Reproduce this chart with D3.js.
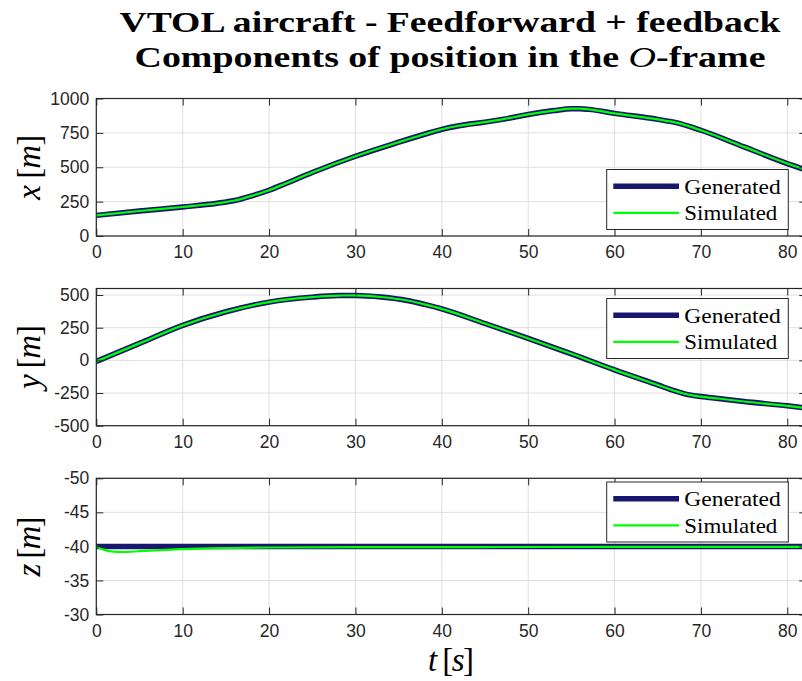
<!DOCTYPE html>
<html>
<head>
<meta charset="utf-8">
<script src="https://cdn.jsdelivr.net/npm/d3@7"></script>
<style>
  body { margin: 0; background: #fff; }
  svg { display: block; }
</style>
</head>
<body>
<script>
// ---- Position components of the VTOL aircraft, time in seconds ----
const timeTicks = [0, 10, 20, 30, 40, 50, 60, 70, 80];

// x component [m]
const timeX = [0, 5, 10, 14, 16, 18, 20, 22, 25, 30, 35, 38, 40, 42, 45, 47, 50, 53, 55, 56, 57, 60, 65, 67, 70, 75, 80, 82.2];
const xGenerated = [150, 182, 211, 238, 258, 292, 333, 384, 462, 580, 682, 740, 776, 802, 828, 848, 884, 912, 926, 926, 921, 892, 848, 826, 769, 648, 527, 480];
const xSimulated = [150, 182, 211, 238, 258, 292, 333, 384, 462, 580, 682, 740, 776, 802, 828, 848, 884, 912, 926, 926, 921, 892, 848, 826, 769, 648, 527, 480];
const xTicks = [0, 250, 500, 750, 1000];

// y component [m]
const timeY = [0, 5, 10, 15, 20, 25, 28, 30, 33, 36, 38, 40, 45, 50, 55, 60, 65, 67, 68, 69, 70, 72, 75, 80, 82.2];
const yGenerated = [-8, 130, 268, 372, 446, 484, 496, 497, 485, 458, 428, 394, 282, 168, 50, -73, -188, -234, -254, -268, -277, -292, -315, -348, -365];
const ySimulated = [-8, 130, 268, 372, 446, 484, 496, 497, 485, 458, 428, 394, 282, 168, 50, -73, -188, -234, -254, -268, -277, -292, -315, -348, -365];
const yTicks = [-500, -250, 0, 250, 500];

// z component [m] (axis points down: -50 at the top)
const timeZGen = [0, 20, 40, 60, 82.2];
const zGenerated = [-40, -40, -40, -40, -40];
const timeZSim = [0, 0.5, 1, 1.5, 2, 3, 5, 8, 10, 15, 20, 30, 40, 60, 82.2];
const zSimulated = [-40, -39.7, -39.45, -39.3, -39.22, -39.18, -39.3, -39.5, -39.6, -39.75, -39.84, -39.88, -39.9, -39.92, -39.92];
const zTicks = [-50, -45, -40, -35, -30];

const seriesNames = ["Generated", "Simulated"];

// ---- drawing ----
const W = 802, H = 681;
const AX = "#262626", GRID = "#dfdfdf";
const GEN_COLOR = "#17176e", SIM_COLOR = "#00ff00";
const SANS = "'Liberation Sans', Arial, sans-serif";
const SERIF = "'Liberation Serif', 'Times New Roman', serif";

const svg = d3.select("body").append("svg")
  .attr("width", W).attr("height", H)
  .attr("xmlns", "http://www.w3.org/2000/svg");
svg.append("rect").attr("width", W).attr("height", H).attr("fill", "#fff");

// Title
const title = svg.append("g")
  .attr("font-family", SERIF).attr("font-weight", "bold")
  .attr("font-size", 30).attr("fill", "#000").attr("text-anchor", "middle");
title.append("text").attr("x", 450).attr("y", 32)
  .attr("textLength", 661).attr("lengthAdjust", "spacingAndGlyphs")
  .text("VTOL aircraft - Feedforward + feedback");
const t2 = title.append("text").attr("x", 450).attr("y", 67)
  .attr("textLength", 631).attr("lengthAdjust", "spacingAndGlyphs");
t2.append("tspan").text("Components of position in the ");
t2.append("tspan").attr("font-style", "italic").attr("font-weight", "normal").text("O");
t2.append("tspan").text("-frame");

// Math-style label "v [u]": italic symbol, upright brackets, italic unit,
// spread out to a target length along its baseline.
function mathLabel(sel, symbol, unit, target) {
  sel.attr("text-anchor", "middle").attr("font-family", SERIF)
    .attr("font-size", 33).attr("fill", "#000");
  sel.append("tspan").attr("font-style", "italic").text(symbol);
  sel.append("tspan").text(" [");
  sel.append("tspan").attr("font-style", "italic").text(unit);
  sel.append("tspan").text("]");
  const len = sel.node().getComputedTextLength();
  const nChars = symbol.length + unit.length + 3;
  const sp = (target - len) / (nChars - 1);
  sel.attr("letter-spacing", sp);
  sel.select("tspan:last-child").attr("letter-spacing", 0);
}

const plotLeft = 96.3, plotRight = 806.3;
const tScale = d3.scaleLinear().domain([0, 82.2]).range([plotLeft, plotRight]);

const panels = [
  { id: "x", top: 98.5, bottom: 236, domain: [0, 1000], ticks: xTicks,
    series: [[timeX, xGenerated], [timeX, xSimulated]], legendTop: 169.5, labelLen: 65 },
  { id: "y", top: 288.5, bottom: 425.7, domain: [-500, 550], ticks: yTicks,
    series: [[timeY, yGenerated], [timeY, ySimulated]], legendTop: 298.5, labelLen: 64 },
  { id: "z", top: 478.3, bottom: 614.5, domain: [-30, -50], ticks: zTicks,
    series: [[timeZGen, zGenerated], [timeZSim, zSimulated]], legendTop: 482, labelLen: 60 }
];

const defs = svg.append("defs");

panels.forEach((p, i) => {
  const vScale = d3.scaleLinear().domain(p.domain).range([p.bottom, p.top]);
  const g = svg.append("g");
  const w = plotRight - plotLeft;

  // grid
  g.append("g").selectAll("line").data(timeTicks).join("line")
    .attr("x1", d => tScale(d)).attr("x2", d => tScale(d))
    .attr("y1", p.top).attr("y2", p.bottom)
    .attr("stroke", GRID).attr("stroke-width", 1);
  g.append("g").selectAll("line").data(p.ticks).join("line")
    .attr("x1", plotLeft).attr("x2", plotRight)
    .attr("y1", d => vScale(d)).attr("y2", d => vScale(d))
    .attr("stroke", GRID).attr("stroke-width", 1);

  // data lines
  defs.append("clipPath").attr("id", "clip-" + p.id)
    .append("rect").attr("x", plotLeft).attr("y", p.top)
    .attr("width", w).attr("height", p.bottom - p.top);
  const lineGen = d3.line().curve(d3.curveMonotoneX)
    .x(d => tScale(d[0])).y(d => vScale(d[1]));
  const dataG = g.append("g").attr("clip-path", `url(#clip-${p.id})`);
  p.series.forEach((s, k) => {
    const pts = s[0].map((t, j) => [t, s[1][j]]);
    dataG.append("path").datum(pts)
      .attr("d", lineGen)
      .attr("fill", "none")
      .attr("stroke", k === 0 ? GEN_COLOR : SIM_COLOR)
      .attr("stroke-width", k === 0 ? 5.5 : 2.2)
      .attr("stroke-linejoin", "round");
  });

  // axes (ticks pointing inwards, mirrored on all sides)
  const axL = d3.axisLeft(vScale).tickValues(p.ticks).tickSize(-7).tickPadding(7).tickSizeOuter(0);
  const axR = d3.axisRight(vScale).tickValues(p.ticks).tickSize(-7).tickFormat("").tickSizeOuter(0);
  const axB = d3.axisBottom(tScale).tickValues(timeTicks).tickSize(-7).tickPadding(10).tickSizeOuter(0);
  const axT = d3.axisTop(tScale).tickValues(timeTicks).tickSize(-7).tickFormat("").tickSizeOuter(0);

  const gl = g.append("g").attr("transform", `translate(${plotLeft},0)`).call(axL);
  const gr = g.append("g").attr("transform", `translate(${plotRight},0)`).call(axR);
  const gb = g.append("g").attr("transform", `translate(0,${p.bottom})`).call(axB);
  const gt = g.append("g").attr("transform", `translate(0,${p.top})`).call(axT);
  [gl, gr, gb, gt].forEach(a => {
    a.select(".domain").remove();
    a.selectAll(".tick line").attr("stroke", AX).attr("stroke-width", 1);
    a.selectAll(".tick text").attr("fill", AX).attr("font-family", SANS).attr("font-size", 17.5);
  });
  gl.selectAll(".tick text").text(d => d3.format("")(d).replace("−", "-"));
  gb.selectAll(".tick text").attr("dy", "0.71em");

  // box
  g.append("rect").attr("x", plotLeft).attr("y", p.top)
    .attr("width", w).attr("height", p.bottom - p.top)
    .attr("fill", "none").attr("stroke", AX).attr("stroke-width", 1.2);

  // axis label
  const lbl = g.append("text")
    .attr("transform", `translate(40,${(p.top + p.bottom) / 2}) rotate(-90)`);
  mathLabel(lbl, p.id, "m", p.labelLen);

  // legend
  const lx = 606.7, lw = 181.6, lh = 60;
  const lg = g.append("g");
  lg.append("rect").attr("x", lx).attr("y", p.legendTop)
    .attr("width", lw).attr("height", lh)
    .attr("fill", "#fff").attr("stroke", AX).attr("stroke-width", 1);
  seriesNames.forEach((name, k) => {
    const yy = p.legendTop + 16.7 + k * 26.7;
    lg.append("line").attr("x1", 613.3).attr("x2", 679)
      .attr("y1", yy).attr("y2", yy)
      .attr("stroke", k === 0 ? GEN_COLOR : SIM_COLOR)
      .attr("stroke-width", k === 0 ? 5.5 : 2.2);
    lg.append("text").attr("x", 684.3).attr("y", yy + 7.5)
      .attr("font-family", SERIF).attr("font-size", 22).attr("fill", "#000")
      .attr("textLength", k === 0 ? 96.5 : 93).attr("lengthAdjust", "spacingAndGlyphs")
      .text(name);
  });
});

// time axis label
const tl = svg.append("text").attr("transform", "translate(451,671)");
mathLabel(tl, "t", "s", 46);
</script>
</body>
</html>
